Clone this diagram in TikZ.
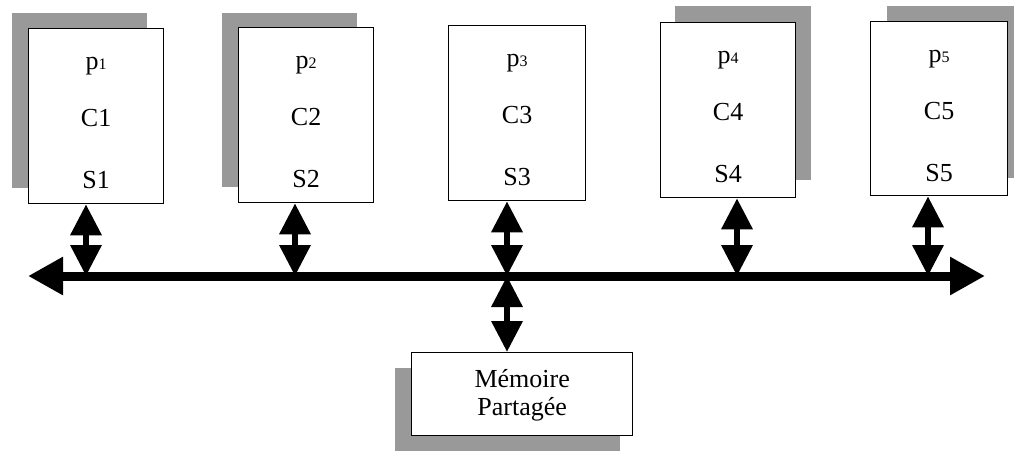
\documentclass[tikz,border=0pt]{standalone}
\usepackage{fontspec}
\setmainfont{Liberation Serif}
\usetikzlibrary{arrows.meta}
\begin{document}
\begin{tikzpicture}[x=1pt,y=-1pt,
  procbox/.style={draw=black, line width=1.3pt, fill=white, rectangle, inner sep=0pt,
    minimum width=135pt, minimum height=175pt, anchor=north west},
  shadowfill/.style={fill=black!40},
  lbl/.style={font=\fontsize{26}{30}\selectfont, anchor=base, inner sep=0pt},
  link/.style={line width=6.5pt, {Triangle[length=31pt,width=30pt]}-{Triangle[length=31pt,width=30pt]}},
  bus/.style={line width=9pt, {Triangle[length=35pt,width=36pt]}-{Triangle[length=35pt,width=36pt]}},
]
\useasboundingbox (0,0) rectangle (1014,451);
\newcommand{\sbs}[1]{{\fontsize{16}{16}\selectfont #1}}
% shadows
\fill[shadowfill] (12,13) rectangle (147,188);
\fill[shadowfill] (222,13) rectangle (357,187);
\fill[shadowfill] (675,6) rectangle (811,180);
\fill[shadowfill] (887,6) rectangle (1014,178);
\fill[shadowfill] (395,368) rectangle (620,451);
% processor boxes
\node[procbox] (b1) at (28,28) {};
\node[procbox] (b2) at (238,27) {};
\node[procbox, minimum width=137pt] (b3) at (448,25) {};
\node[procbox] (b4) at (660,22) {};
\node[procbox, minimum width=137pt, minimum height=174pt] (b5) at (870,21) {};
% labels
\path (b1.north) ++(0,41) node[lbl] (p1) {p\sbs{1}};
\path (b1.north) ++(0,98) node[lbl] (c1) {C1};
\path (b1.north) ++(0,160) node[lbl] (s1) {S1};
\path (b2.north) ++(0,41) node[lbl] (p2) {p\sbs{2}};
\path (b2.north) ++(0,98) node[lbl] (c2) {C2};
\path (b2.north) ++(0,160) node[lbl] (s2) {S2};
\path (b3.north) ++(0,41) node[lbl] (p3) {p\sbs{3}};
\path (b3.north) ++(0,98) node[lbl] (c3) {C3};
\path (b3.north) ++(0,160) node[lbl] (s3) {S3};
\path (b4.north) ++(0,41) node[lbl] (p4) {p\sbs{4}};
\path (b4.north) ++(0,98) node[lbl] (c4) {C4};
\path (b4.north) ++(0,160) node[lbl] (s4) {S4};
\path (b5.north) ++(0,41) node[lbl] (p5) {p\sbs{5}};
\path (b5.north) ++(0,98) node[lbl] (c5) {C5};
\path (b5.north) ++(0,160) node[lbl] (s5) {S5};
% memory
\node[draw=black, line width=1.3pt, fill=white, rectangle, inner sep=0pt,
  minimum width=221pt, minimum height=83pt, anchor=north west] (mem) at (411,352) {};
\path (mem.north) ++(0,35) node[lbl] (m1) {Mémoire};
\path (mem.north) ++(0,63) node[lbl] (m2) {Partagée};
% bus
\coordinate (busL) at (28,276);
\coordinate (busR) at (985,276);
\coordinate (t1) at (86,276);
\coordinate (t2) at (295,276);
\coordinate (t3) at (507,276);
\coordinate (t4) at (737,276);
\coordinate (t5) at (928,276);
\draw[bus] (busL) -- (busR);
\draw[link] (t1 |- b1.south) -- (t1);
\draw[link] (t2 |- b2.south) -- (t2);
\draw[link] (t3 |- b3.south) -- (t3);
\draw[link] (t4 |- b4.south) -- (t4);
\draw[link] (t5 |- b5.south) -- (t5);
\draw[link] (t3) -- (t3 |- mem.north);
\end{tikzpicture}
\end{document}
